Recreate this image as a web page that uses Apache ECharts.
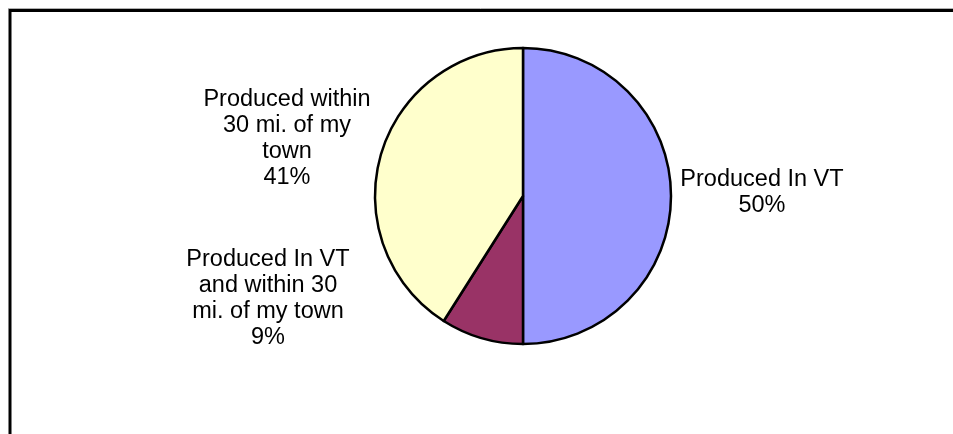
<!DOCTYPE html>
<html>
<head>
<meta charset="utf-8">
<script src="https://cdn.jsdelivr.net/npm/echarts@6/dist/echarts.min.js"></script>
<style>
  html, body { margin: 0; padding: 0; background: #fff; }
  #main { width: 953px; height: 434px; }
</style>
</head>
<body>
<div id="main"></div>
<script>
// slices, clockwise from 12 o'clock
var categories = [
    'Produced In VT',
    'Produced In VT\nand within 30\nmi. of my town',
    'Produced within\n30 mi. of my\ntown'
];
var values = [50, 9, 41];
var colors = ['#9999FF', '#993366', '#FFFFCC'];

// where Excel left each label (label centre, px)
var labelPos = [[762, 193], [268, 299], [287, 139]];

var chart = echarts.init(document.getElementById('main'));

var pieData = [];
for (var i = 0; i < categories.length; i++) {
    pieData.push({
        name: categories[i],
        value: values[i],
        itemStyle: { color: colors[i] }
    });
}

chart.setOption({
    animation: false,
    backgroundColor: '#fff',
    graphic: [
        {
            type: 'line',
            shape: { x1: 8, y1: 8.5, x2: 953, y2: 8.5 },
            style: { stroke: '#b0b0b0', lineWidth: 1 }
        },
        {
            type: 'rect',
            shape: { x: 10, y: 10.5, width: 1000, height: 500 },
            style: { fill: null, stroke: '#000', lineWidth: 3 }
        }
    ],
    series: [{
        type: 'pie',
        center: [523, 196],
        radius: 148,
        startAngle: 90,
        clockwise: true,
        data: pieData,
        itemStyle: { borderColor: '#000', borderWidth: 2.5 },
        emphasis: { disabled: true },
        label: {
            show: true,
            position: 'outside',
            formatter: function (p) {
                return p.name + '\n' + Math.round(p.percent) + '%';
            },
            color: '#000',
            fontFamily: 'Liberation Sans, Arial, sans-serif',
            fontSize: 23.5,
            lineHeight: 26,
            align: 'center'
        },
        labelLine: { show: false },
        labelLayout: function (params) {
            var p = labelPos[params.dataIndex];
            return { x: p[0], y: p[1], align: 'center', verticalAlign: 'middle' };
        }
    }]
});
</script>
</body>
</html>
